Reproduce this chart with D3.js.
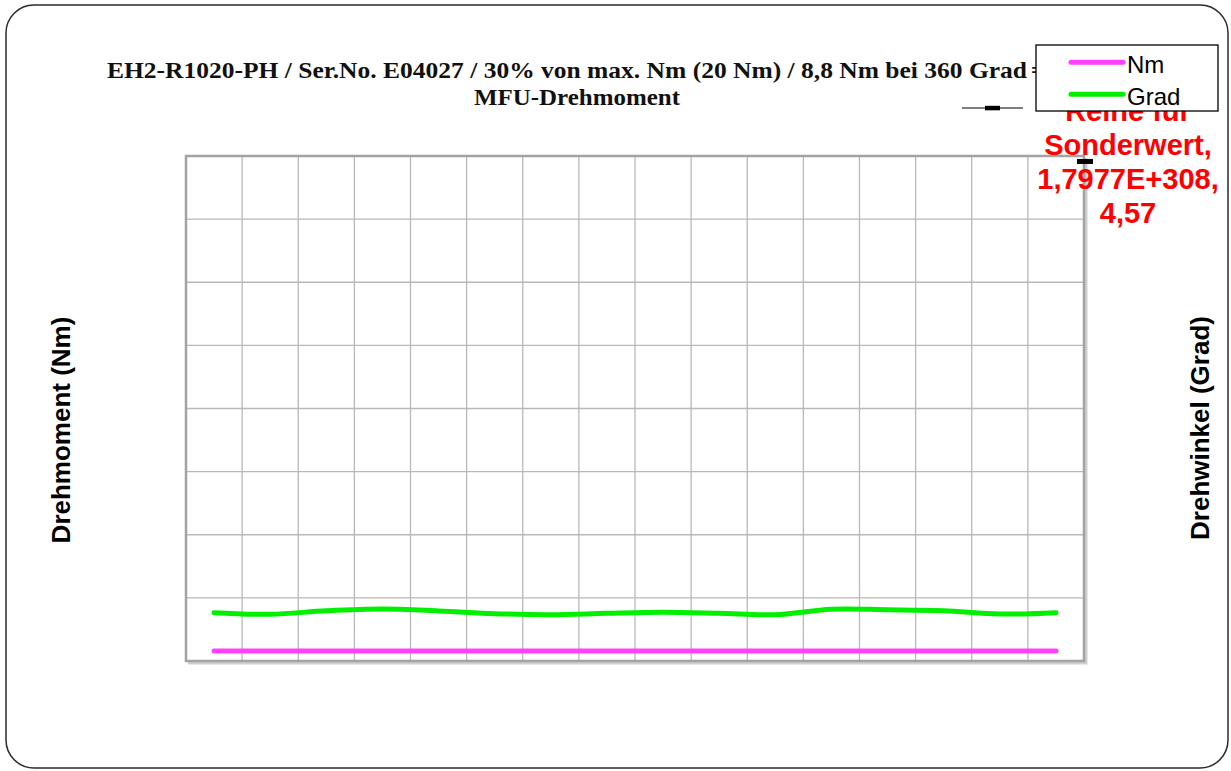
<!DOCTYPE html>
<html><head><meta charset="utf-8">
<script src="https://cdn.jsdelivr.net/npm/d3@7"></script>
<style>body{margin:0;background:#fff;overflow:hidden} svg{display:block}</style>
</head><body>
<script>
// ---- data ----
const categories = ["1","2","3","4","5","6","7","8","9","10","11","12","13","14","15","16"];
const nmValues   = [0.8,0.8,0.8,0.8,0.8,0.8,0.8,0.8,0.8,0.8,0.8,0.8,0.8,0.8,0.8,0.8];
const gradValues = [38.3,37.0,39.8,41.2,39.7,37.5,36.7,37.8,38.6,37.8,36.7,41.0,40.6,39.8,37.2,38.3];
const seriesNames = ["Nm","Grad"];
const seriesColors = ["#ff40ff","#00f000"];
const nmDomain = [0, 40];
const gradDomain = [0, 400];
const specialDomain = [0, 4.62];
const specialValue = 4.57;
const specialLabel = ["Reihe für","Sonderwert,","1,7977E+308,","4,57"];
const titleLine1 = "EH2-R1020-PH / Ser.No. E04027 / 30% von max. Nm (20 Nm) / 8,8 Nm bei 360 Grad";
const titleLine2 = "MFU-Drehmoment";
const leftAxisTitle = "Drehmoment (Nm)";
const rightAxisTitle = "Drehwinkel (Grad)";

// ---- layout ----
const W = 1231, H = 771;
const plot = {left:186, top:156, right:1084, bottom:661};

const svg = d3.select("body").append("svg").attr("width", W).attr("height", H);

// outer frame
svg.append("rect").attr("x",6).attr("y",5).attr("width",1222).attr("height",763)
  .attr("rx",28).attr("ry",28).attr("fill","#fff").attr("stroke","#2a2a2a").attr("stroke-width",1.5);

// scales
const xBand = d3.scaleBand().domain(categories).range([plot.left, plot.right]);
const xPoint = d3.scalePoint().domain(categories).range([plot.left, plot.right]).padding(0.5);
const yNm = d3.scaleLinear().domain(nmDomain).range([plot.bottom, plot.top]);
const yGrad = d3.scaleLinear().domain(gradDomain).range([plot.bottom, plot.top]);
const ySpecial = d3.scaleLinear().domain(specialDomain).range([plot.bottom, plot.top]);

// title
const serif = "'Liberation Serif','DejaVu Serif',serif";
svg.append("text").attr("x",107).attr("y",78).attr("font-family",serif).attr("font-weight","bold")
  .attr("font-size",23).attr("fill","#111").attr("textLength",920).attr("lengthAdjust","spacingAndGlyphs")
  .text(titleLine1);
svg.append("text").attr("x",1031).attr("y",78).attr("font-family",serif).attr("font-weight","bold")
  .attr("font-size",23).attr("fill","#111").text("=");
svg.append("text").attr("x",577).attr("y",105).attr("text-anchor","middle").attr("font-family",serif)
  .attr("font-weight","bold").attr("font-size",23).attr("fill","#111")
  .attr("textLength",206).attr("lengthAdjust","spacingAndGlyphs").text(titleLine2);

// plot area shadow + background
const g = svg.append("g");
g.append("path")
  .attr("d", `M${plot.right+2},${plot.top+2} L${plot.right+2},${plot.bottom+2} L${plot.left+2},${plot.bottom+2}`)
  .attr("fill","none").attr("stroke","#cfcfcf").attr("stroke-width",3);
g.append("rect").attr("x",plot.left).attr("y",plot.top).attr("width",plot.right-plot.left)
  .attr("height",plot.bottom-plot.top).attr("fill","#fff");

// gridlines
const vLines = categories.slice(1).map(c => xBand(c));
g.selectAll(".vg").data(vLines).join("line").attr("class","vg")
  .attr("x1",d=>d).attr("x2",d=>d).attr("y1",plot.top).attr("y2",plot.bottom)
  .attr("stroke","#b8b8b8").attr("stroke-width",1.3);
const hLines = yGrad.ticks(8).slice(1,-1);
g.selectAll(".hg").data(hLines).join("line").attr("class","hg")
  .attr("x1",plot.left).attr("x2",plot.right).attr("y1",d=>yGrad(d)).attr("y2",d=>yGrad(d))
  .attr("stroke","#b8b8b8").attr("stroke-width",1.3);

// plot border
g.append("rect").attr("x",plot.left).attr("y",plot.top).attr("width",plot.right-plot.left)
  .attr("height",plot.bottom-plot.top).attr("fill","none").attr("stroke","#a3a3a3").attr("stroke-width",2.5);

// series lines
const lineNm = d3.line().x((d,i)=>xPoint(categories[i])).y(d=>yNm(d)).curve(d3.curveCatmullRom.alpha(0.5));
const lineGrad = d3.line().x((d,i)=>xPoint(categories[i])).y(d=>yGrad(d)).curve(d3.curveCatmullRom.alpha(0.5));
g.append("path").attr("d", lineGrad(gradValues)).attr("fill","none").attr("stroke",seriesColors[1])
  .attr("stroke-width",5).attr("stroke-linecap","round").attr("stroke-linejoin","round");
g.append("path").attr("d", lineNm(nmValues)).attr("fill","none").attr("stroke",seriesColors[0])
  .attr("stroke-width",5).attr("stroke-linecap","round").attr("stroke-linejoin","round");

// special point marker
const sx = xPoint.range()[1] + 1, sy = ySpecial(specialValue);
svg.append("rect").attr("x",sx-8).attr("y",sy-2.5).attr("width",16).attr("height",5).attr("fill","#000");

// special point label
const sans = "'Liberation Sans',Arial,sans-serif";
const lbl = svg.append("text").attr("font-family",sans).attr("font-weight","bold").attr("font-size",29)
  .attr("fill","#ff0000").attr("text-anchor","middle");
specialLabel.forEach((t,i)=>{
  lbl.append("tspan").attr("x",sx+43).attr("y",sy-40.5+i*34).text(t);
});

// axis titles
svg.append("text").attr("transform","translate(70,430) rotate(-90)").attr("text-anchor","middle")
  .attr("font-family",sans).attr("font-weight","bold").attr("font-size",26).attr("fill","#000").text(leftAxisTitle);
svg.append("text").attr("transform","translate(1209,428) rotate(-90)").attr("text-anchor","middle")
  .attr("font-family",sans).attr("font-weight","bold").attr("font-size",26).attr("fill","#000").text(rightAxisTitle);

// stray legend entry of the special series (line + marker)
svg.append("line").attr("x1",962).attr("x2",1023).attr("y1",108).attr("y2",108).attr("stroke","#000").attr("stroke-width",1.2);
svg.append("rect").attr("x",985).attr("y",105.8).attr("width",15).attr("height",4.5).attr("fill","#000");

// legend
const lg = svg.append("g");
lg.append("rect").attr("x",1036).attr("y",45).attr("width",182).attr("height",66)
  .attr("fill","#fff").attr("stroke","#000").attr("stroke-width",1.3);
seriesNames.forEach((n,i)=>{
  const y = 62.3 + i*32;
  lg.append("line").attr("x1",1071).attr("x2",1123).attr("y1",y).attr("y2",y)
    .attr("stroke",seriesColors[i]).attr("stroke-width",5).attr("stroke-linecap","round");
  lg.append("text").attr("x",1127).attr("y",y+10.5).attr("font-family",sans).attr("font-size",24)
    .attr("fill","#000").text(n);
});
</script>
</body></html>
